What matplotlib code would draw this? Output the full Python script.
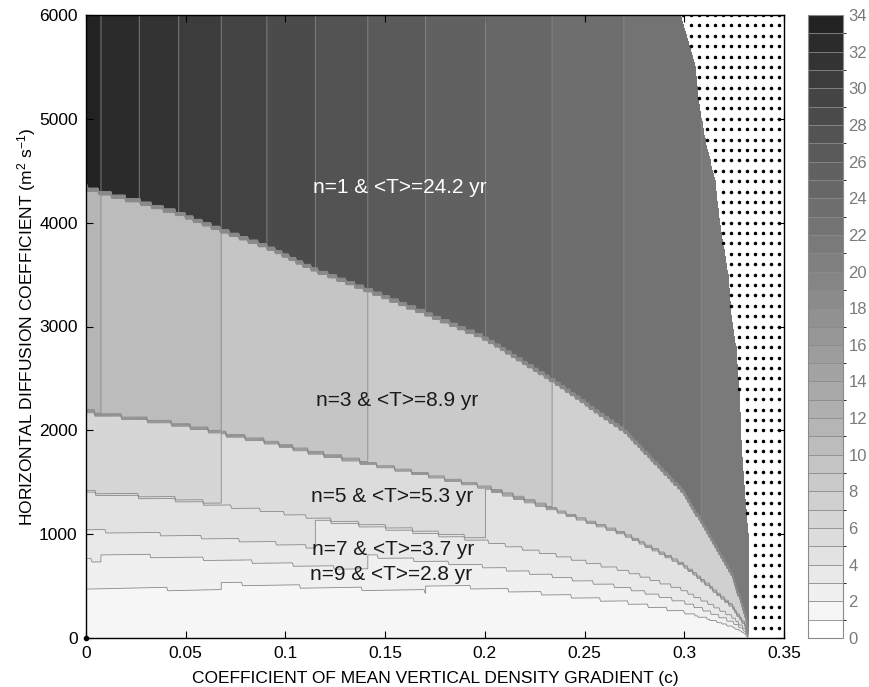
import numpy as np
import matplotlib
matplotlib.use('Agg')
import matplotlib.pyplot as plt
from matplotlib.colors import ListedColormap, BoundaryNorm
import matplotlib.colorbar as mcolorbar

plt.rcParams['font.family'] = ['Liberation Sans', 'DejaVu Sans']
plt.rcParams['mathtext.default'] = 'regular'

# ---------------- data ----------------
# residence time of mode n=1 : c where T1 crosses whole years
t1_c = [0.0, 0.0075, 0.0267, 0.0465, 0.0678, 0.0907, 0.115, 0.1413,
        0.1703, 0.2003, 0.2337, 0.2697, 0.3085, 0.35]
t1_T = [33.4, 33, 32, 31, 30, 29, 28, 27, 26, 25, 24, 23, 22, 21.1]

# boundary between mode 1 and mode 3 (K vs c) -> also gives shape of other boundaries
bnd_c = [0.0, 0.0078, 0.0267, 0.0465, 0.0678, 0.0907, 0.115, 0.1413, 0.1703,
         0.2003, 0.2337, 0.2697, 0.2987, 0.312, 0.324, 0.3303, 0.3325, 0.35]
bnd_K13 = [4337, 4289, 4202, 4090, 3929, 3769, 3544, 3352, 3128,
           2887, 2485, 2003, 1425, 1012, 600, 250, 0, 0]

# dominant modes and their boundaries at c = 0 (m2 s-1)
modes = [1, 3, 5, 7, 9, 11, 13, 15, 17]
mode_bounds_K0 = [4337, 2180, 1410, 1047, 832, 736, 600, 491]

# edge of the region without solution (dotted)
nan_K = [0, 1000, 1400, 1900, 2300, 2800, 3100, 3500, 4000, 4400, 4800,
         5200, 5500, 5850, 6000]
nan_c = [0.332, 0.332, 0.3303, 0.3285, 0.3278, 0.326, 0.3235, 0.322, 0.3178,
         0.3155, 0.3105, 0.307, 0.3055, 0.3005, 0.2984]

levels = np.arange(0, 35, 1)
band_gray = [255, 246, 240, 233, 226, 220, 214, 208, 202, 197, 188, 181,
             175, 169, 163, 157, 151, 145, 139, 133, 128, 122, 115, 110,
             103, 97, 90, 83, 75, 68, 60, 51, 43, 34]

labels_txt = ["n=1 & <T>=24.2 yr", "n=3 & <T>=8.9 yr", "n=5 & <T>=5.3 yr",
              "n=7 & <T>=3.7 yr", "n=9 & <T>=2.8 yr"]
labels_c = [0.1575, 0.1558, 0.1533, 0.154, 0.153]
labels_K = [4334, 2292, 1358, 857, 616]
labels_col = ['white', '#1a1a1a', '#1a1a1a', '#1a1a1a', '#1a1a1a']

# ---------------- build field ----------------
c = np.linspace(0, 0.35, 701)
K = np.linspace(0, 6000, 181)
C, KK = np.meshgrid(c, K)
T1 = np.interp(c, t1_c, t1_T)
g = np.interp(c, bnd_c, bnd_K13) / bnd_K13[0]
n = np.full(C.shape, float(modes[-1]))
for i in reversed(range(len(mode_bounds_K0))):
    b = mode_bounds_K0[i] * g
    n[KK > b[None, :]] = modes[i]
T = T1[None, :] / n
cmax = np.interp(K, nan_K, nan_c)
T = np.ma.masked_where(C > cmax[:, None], T)

cols = [(v / 255, v / 255, v / 255) for v in band_gray]
cmap = ListedColormap(cols)
norm = BoundaryNorm(levels, cmap.N)

# ---------------- figure ----------------
fig = plt.figure(figsize=(8.7, 6.87), dpi=100)
ax = fig.add_axes([86 / 870, 49 / 687, 698 / 870, 623 / 687])
ax.contourf(C, KK, T, levels=levels, cmap=cmap, norm=norm)
ax.contour(C, KK, T, levels=levels[1:-1], colors='#8a8a8a', linewidths=0.6)

# dotted no-solution region
dot_c = np.arange(0.3475, 0.29, -0.004)
dot_K = np.arange(100, 6001, 100)
DC, DK = np.meshgrid(dot_c, dot_K)
mask = DC > np.interp(DK, nan_K, nan_c)
ax.scatter(DC[mask], DK[mask], s=6.5, c='black', linewidths=0, zorder=3)

ax.plot([0], [0], 'o', color='black', ms=3, clip_on=False, zorder=5)

for t, xc, yk, col in zip(labels_txt, labels_c, labels_K, labels_col):
    ax.text(xc, yk, t, color=col, fontsize=15, ha='center', va='center')

ax.set_xlim(0, 0.35)
ax.set_ylim(0, 6000)
ax.set_xticks([0, 0.05, 0.1, 0.15, 0.2, 0.25, 0.3, 0.35])
ax.set_xticklabels(['0', '0.05', '0.1', '0.15', '0.2', '0.25', '0.3', '0.35'])
ax.set_yticks(np.arange(0, 6001, 1000))
ax.tick_params(direction='in', top=True, right=True, length=5, width=0.8,
               labelsize=12.5, pad=6)
for s in ax.spines.values():
    s.set_linewidth(1.0)
ax.set_xlabel('COEFFICIENT OF MEAN VERTICAL DENSITY GRADIENT (c)', fontsize=12.5, labelpad=7)
ax.set_ylabel(r'HORIZONTAL DIFFUSION COEFFICIENT (m$^2$ s$^{-1}$)', fontsize=12.5, labelpad=1)

cax = fig.add_axes([808 / 870, 49 / 687, 35 / 870, 623 / 687])
cb = mcolorbar.ColorbarBase(cax, cmap=cmap, norm=norm, boundaries=levels,
                            ticks=np.arange(0, 35, 2), drawedges=True)
cb.dividers.set_color('#8a8a8a')
cb.dividers.set_linewidth(0.6)
cb.outline.set_edgecolor('#8a8a8a')
cb.outline.set_linewidth(0.8)
cax.tick_params(length=0, labelsize=12, labelcolor='#7a7a7a', pad=4)

fig.savefig('out.png', dpi=100)
